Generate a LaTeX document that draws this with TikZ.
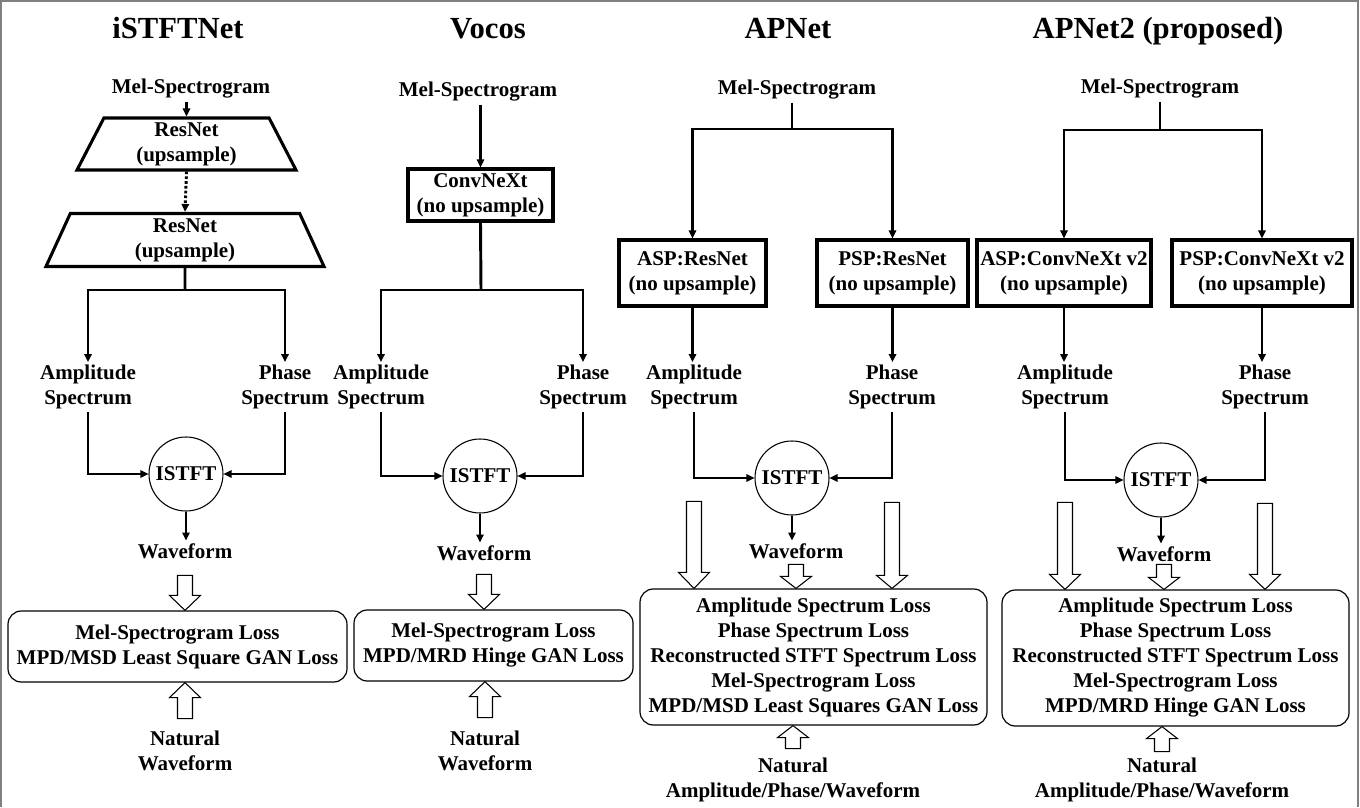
\documentclass[tikz,border=0pt]{standalone}
\usepackage{fontspec}
\setmainfont{Liberation Serif}
\usetikzlibrary{arrows.meta}
\usetikzlibrary{shapes.geometric}
\tikzset{
  txt/.style={% plain bold labels
    font=\bfseries\fontsize{15.75}{18.75}\selectfont,
    align=center,
    inner sep=2pt
  },
  title/.style={font=\bfseries\fontsize{23}{27}\selectfont, inner sep=0pt, anchor=base},
  netBox/.style={txt, draw, line width=2.3pt, minimum height=49.5pt},
  trapBox/.style={txt, draw, line width=2.3pt, trapezium,
    trapezium stretches body=true},
  lossBox/.style={txt, draw, line width=0.9pt, rounded corners=10pt},
  istft/.style={txt, draw, circle, line width=0.8pt, minimum size=55.5pt, inner sep=0pt},
  line/.style={line width=2.2pt},
  conn/.style={line width=2.2pt, -{Triangle[length=6pt,width=5.5pt]}},
  dotLine/.style={dash pattern=on 2pt off 1.6pt},
  hollowArrow/.style={draw, line width=0.8pt, fill=white, line join=miter},
  frame/.style={draw=black!50, line width=1.2pt}
}
% hollow arrow: rotation, tip, length, head length
\newcommand*{\hollowArrow}[4]{%
  \draw[hollowArrow, shift={(#2)}, rotate=#1]
    (0,0) -- (15.5,-#4) -- (7.5,-#4) -- (7.5,-#3) -- (-7.5,-#3)
    -- (-7.5,-#4) -- (-15.5,-#4) -- cycle;}
\begin{document}
\begin{tikzpicture}[x=0.75pt,y=-0.75pt]
    \useasboundingbox (0,0) rectangle (1360,807);
    \draw[frame] (1,807) -- (1,1) -- (1358,1) -- (1358,807);

    % titles
    \node[title] (t1) at (178,38) {iSTFTNet};
    \node[title] (t2) at (488,38) {Vocos};
    \node[title] (t3) at (788,38) {APNet};
    \node[title] (t4) at (1158,38) {APNet2 (proposed)};

    % iSTFTNet
    \node[txt] (mel1) at (191,89) {Mel-Spectrogram};
    \node[trapBox, minimum width=164.25pt, minimum height=39pt,
      trapezium left angle=61, trapezium right angle=61] (res1a) at (186.5,144) {ResNet\\(upsample)};
    \node[trapBox, minimum width=208.5pt, minimum height=39.75pt,
      trapezium left angle=63.4, trapezium right angle=63.4] (res1b) at (185,240) {ResNet\\(upsample)};
    \coordinate (split1) at (185,290);
    \node[txt] (amp1) at (88,387) {Amplitude\\Spectrum};
    \node[txt] (ph1) at (285,387) {Phase\\Spectrum};
    \node[istft] (istft1) at (186,474) {ISTFT};
    \node[txt] (wave1) at (185,551) {Waveform};
    \node[lossBox, minimum width=254.25pt, minimum height=53.25pt] (loss1) at (177.5,646.5)
      {Mel-Spectrogram Loss\\MPD/MSD Least Square GAN Loss};
    \node[txt] (nat1) at (185,751) {Natural\\Waveform};

    \draw[conn] (mel1.south -| res1a.north) -- (res1a.north);
    \draw[conn, dotLine] (res1a.south) -- (res1b.north);
    \draw[line] (res1b.south) -- (split1);
    \draw[conn] (split1) -| (amp1.north);
    \draw[conn] (split1) -| (ph1.north);
    \draw[conn] (amp1.south) |- (istft1.west);
    \draw[conn] (ph1.south) |- (istft1.east);
    \draw[conn] (istft1.south) -- (istft1.south |- wave1.north);
    \hollowArrow{0}{wave1 |- loss1.north}{35}{15}
    \hollowArrow{180}{nat1 |- loss1.south}{36}{15}

    % Vocos
    \node[txt] (mel2) at (478,92) {Mel-Spectrogram};
    \node[netBox, minimum width=108.75pt, minimum height=39pt] (conv2) at (480.5,195) {ConvNeXt\\(no upsample)};
    \coordinate (split2) at (481,290);
    \node[txt] (amp2) at (381,387) {Amplitude\\Spectrum};
    \node[txt] (ph2) at (583,387) {Phase\\Spectrum};
    \node[istft] (istft2) at (480,476) {ISTFT};
    \node[txt] (wave2) at (484,553) {Waveform};
    \node[lossBox, minimum width=209.25pt, minimum height=53.25pt] (loss2) at (493.5,645.5)
      {Mel-Spectrogram Loss\\MPD/MRD Hinge GAN Loss};
    \node[txt] (nat2) at (485,751) {Natural\\Waveform};

    \draw[conn] (mel2.south -| conv2.north) -- (conv2.north);
    \draw[line] (conv2.south) -- (split2);
    \draw[conn] (split2) -| (amp2.north);
    \draw[conn] (split2) -| (ph2.north);
    \draw[conn] (amp2.south) |- (istft2.west);
    \draw[conn] (ph2.south) |- (istft2.east);
    \draw[conn] (istft2.south) -- (istft2.south |- wave2.north);
    \hollowArrow{0}{wave2 |- loss2.north}{35}{15}
    \hollowArrow{180}{nat2 |- loss2.south}{36}{15}

    % APNet
    \node[txt] (mel3) at (797,90) {Mel-Spectrogram};
    \coordinate (split3) at (792,129);
    \node[netBox, minimum width=110.25pt] (asp3) at (692.5,273) {ASP:ResNet\\(no upsample)};
    \node[netBox, minimum width=113.25pt] (psp3) at (892.5,273) {PSP:ResNet\\(no upsample)};
    \node[txt] (amp3) at (694,387) {Amplitude\\Spectrum};
    \node[txt] (ph3) at (892,387) {Phase\\Spectrum};
    \node[istft] (istft3) at (792,478) {ISTFT};
    \node[txt] (wave3) at (796,551) {Waveform};
    \node[lossBox, minimum width=260.25pt, minimum height=102pt] (loss3) at (813.5,657)
      {Amplitude Spectrum Loss\\Phase Spectrum Loss\\Reconstructed STFT Spectrum Loss\\
       Mel-Spectrogram Loss\\MPD/MSD Least Squares GAN Loss};
    \node[txt] (nat3) at (793,780) {Natural\\Amplitude/Phase/Waveform};

    \draw[line] (mel3.south -| split3) -- (split3);
    \draw[conn] (split3) -| (asp3.north);
    \draw[conn] (split3) -| (psp3.north);
    \draw[conn] (asp3.south) -- (asp3.south |- amp3.north);
    \draw[conn] (psp3.south) -- (psp3.south |- ph3.north);
    \draw[conn] (amp3.south) |- (istft3.west);
    \draw[conn] (ph3.south) |- (istft3.east);
    \draw[conn] (istft3.south) -- (istft3.south |- wave3.north);
    \hollowArrow{0}{amp3 |- loss3.north}{87}{16}
    \hollowArrow{0}{wave3 |- loss3.north}{24}{12}
    \hollowArrow{0}{ph3 |- loss3.north}{86}{13}
    \hollowArrow{180}{nat3 |- loss3.south}{23}{12}

    % APNet2
    \node[txt] (mel4) at (1160,89) {Mel-Spectrogram};
    \coordinate (split4) at (1160,130);
    \node[netBox, minimum width=130.5pt] (asp4) at (1064,273) {ASP:ConvNeXt v2\\(no upsample)};
    \node[netBox, minimum width=135pt] (psp4) at (1262,273) {PSP:ConvNeXt v2\\(no upsample)};
    \node[txt] (amp4) at (1065,387) {Amplitude\\Spectrum};
    \node[txt] (ph4) at (1265,387) {Phase\\Spectrum};
    \node[istft] (istft4) at (1161,480) {ISTFT};
    \node[txt] (wave4) at (1164,554) {Waveform};
    \node[lossBox, minimum width=260.25pt, minimum height=102pt] (loss4) at (1175.5,658)
      {Amplitude Spectrum Loss\\Phase Spectrum Loss\\Reconstructed STFT Spectrum Loss\\
       Mel-Spectrogram Loss\\MPD/MRD Hinge GAN Loss};
    \node[txt] (nat4) at (1162,780) {Natural\\Amplitude/Phase/Waveform};

    \draw[line] (mel4.south -| split4) -- (split4);
    \draw[conn] (split4) -| (asp4.north);
    \draw[conn] (split4) -| (psp4.north);
    \draw[conn] (asp4.south) -- (asp4.south |- amp4.north);
    \draw[conn] (psp4.south) -- (psp4.south |- ph4.north);
    \draw[conn] (amp4.south) |- (istft4.west);
    \draw[conn] (ph4.south) |- (istft4.east);
    \draw[conn] (istft4.south) -- (istft4.south |- wave4.north);
    \hollowArrow{0}{amp4 |- loss4.north}{87}{15}
    \hollowArrow{0}{wave4 |- loss4.north}{25}{12}
    \hollowArrow{0}{ph4 |- loss4.north}{86}{15}
    \hollowArrow{180}{nat4 |- loss4.south}{25}{12}
\end{tikzpicture}
\end{document}
